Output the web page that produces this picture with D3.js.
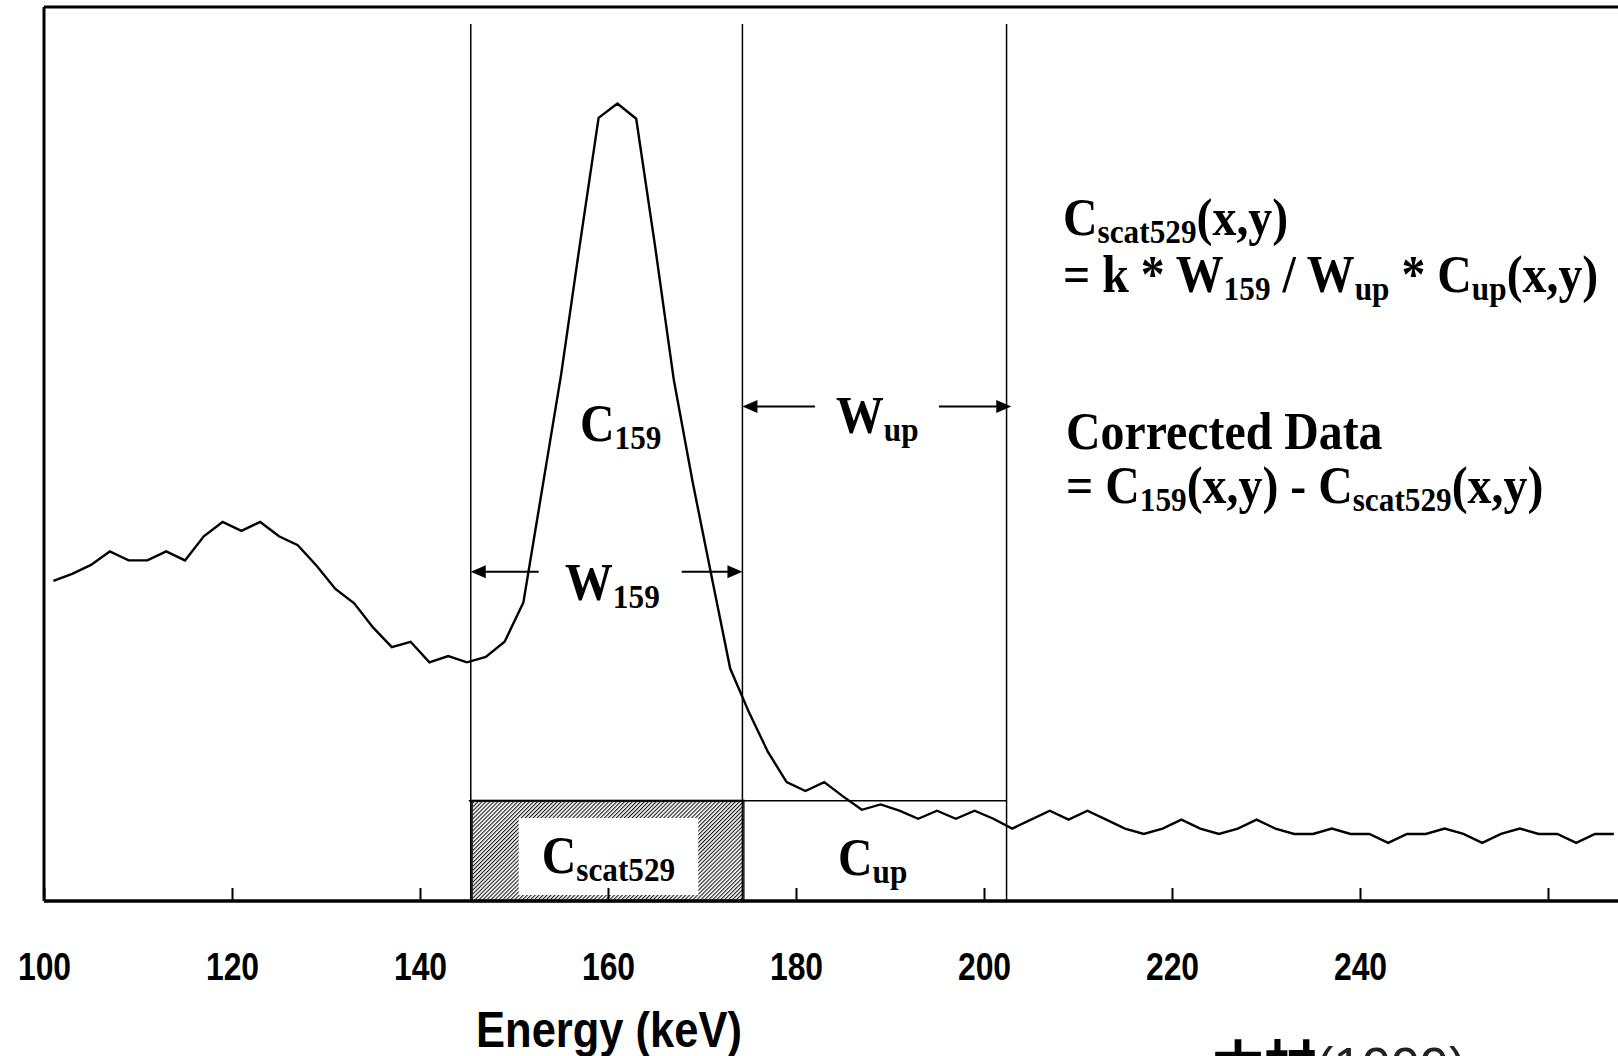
<!DOCTYPE html>
<html><head><meta charset="utf-8">
<script src="https://cdn.jsdelivr.net/npm/d3@7"></script>
<style>
html,body{margin:0;padding:0;background:#fff;overflow:hidden}
svg{display:block}
text{white-space:pre}
</style></head><body>
<svg id="chart" width="1618" height="1056"></svg>
<script>
// ---- data ----
const energies = [101,103,105,107,109,111,113,115,117,119,121,123,125,127,129,131,133,135,137,139,141,143,145,147,149,151,
  153,155,157,159,161,163,165,167,169,171,173,
  175,177,179,181,183,185,187,189,191,193,195,197,199,201,
  203,205,207,209,211,213,215,217,219,221,223,225,227,229,231,233,235,237,239,241,243,245,247,249,251,253,255,257,259,261,263,265,267];
const counts = [358,366,376,391,381,381,391,381,408,424,414,424,408,398,375,349,333,306,284,290,267,274,267,273,290,334,
  461,588,734,876,892,875,733,583,469,364,260,
  211,167,133,123,133,117,102,108,101,92,101,92,101,92,
  81,91,101,91,101,91,81,75,81,91,81,75,81,91,81,75,75,81,75,75,65,75,75,81,75,65,75,81,75,75,65,75,75];
const tickValues = [100,120,140,160,180,200,220,240,260];
const tickLabels = ["100","120","140","160","180","200","220","240",""];
const windowEdges = [145.4, 174.3, 202.4];   // W159: edge0..edge1, Wup: edge1..edge2
const cupLevel = 112;                         // level of C_up / C_scat529 box
const lineTop = 981;

const W = 1618, H = 1056;
const svg = d3.select("#chart");
const x = d3.scaleLinear().domain([100, 260]).range([44, 1548]);
const y = d3.scaleLinear().domain([0, 1000]).range([901, 7]);
const serif = "'Liberation Serif','Times New Roman',serif";
const sans = "'Liberation Sans',Arial,sans-serif";

// hatch pattern
const defs = svg.append("defs");
const pat = defs.append("pattern").attr("id","hatch").attr("patternUnits","userSpaceOnUse")
  .attr("width",2.8).attr("height",10).attr("patternTransform","rotate(45)");
pat.append("rect").attr("width",2.8).attr("height",10).attr("fill","#fff");
pat.append("line").attr("x1",0.6).attr("x2",0.6).attr("y1",0).attr("y2",10).attr("stroke","#000").attr("stroke-width",1.0);

// frame
svg.append("line").attr("x1",x(100)).attr("x2",W).attr("y1",7).attr("y2",7).attr("stroke","#000").attr("stroke-width",3);
svg.append("line").attr("x1",x(100)).attr("x2",x(100)).attr("y1",7).attr("y2",y(0)).attr("stroke","#000").attr("stroke-width",3);

// hatched C_scat529 box
svg.append("rect").attr("x",x(windowEdges[0])+1).attr("y",y(cupLevel))
  .attr("width",x(windowEdges[1])-x(windowEdges[0])).attr("height",y(0)-y(cupLevel))
  .attr("fill","url(#hatch)").attr("stroke","#333").attr("stroke-width",2.5);

// rich text helper (bold serif with subscripts)
function rich(px, py, parts, opts={}) {
  const size = opts.size||52, sub = opts.sub||34, shift = opts.shift||8, sx = opts.sx||0.92;
  const t = svg.append("text").attr("transform",`translate(${px},${py}) scale(${sx},1)`)
    .attr("font-family",serif).attr("font-weight","bold").attr("font-size",size).attr("fill","#000");
  let down = false;
  parts.forEach(([s, isSub]) => {
    const ts = t.append("tspan").text(s);
    if (isSub) { ts.attr("font-size",sub); if (!down) { ts.attr("dy",shift); down = true; } }
    else if (down) { ts.attr("dy",-shift); down = false; }
  });
  return t;
}

// C_scat529 label with white background
const csPx = 541.7, csPy = y(31.3);
const cs = rich(csPx, csPy, [["C",0],["scat529",1]]);
const bb = cs.node().getBBox();
svg.insert("rect", "text").attr("x", csPx + bb.x*0.92 - 23).attr("y", csPy - 55)
  .attr("width", bb.width*0.92 + 46).attr("height", 77).attr("fill","#fff");

// horizontal C_up level line
svg.append("line").attr("x1",x(windowEdges[0])-2).attr("x2",x(windowEdges[2]))
  .attr("y1",y(cupLevel)).attr("y2",y(cupLevel)).attr("stroke","#000").attr("stroke-width",1.5);

// window edges
svg.selectAll("line.edge").data(windowEdges).join("line").attr("class","edge")
  .attr("x1",d=>x(d)).attr("x2",d=>x(d)).attr("y1",y(lineTop)).attr("y2",y(0))
  .attr("stroke","#000").attr("stroke-width",1.5);

// x axis
const xAxis = d3.axisBottom(x).tickValues(tickValues).tickFormat((d,i)=>tickLabels[i])
  .tickSizeInner(-13).tickSizeOuter(0);
const gx = svg.append("g").attr("transform",`translate(0,${y(0)})`).call(xAxis);
gx.select(".domain").remove();
gx.selectAll(".tick line").attr("stroke","#000").attr("stroke-width",2);
gx.selectAll(".tick text").attr("y",79).attr("dy",0).attr("fill","#000")
  .attr("font-family",sans).attr("font-weight","bold").attr("font-size",38)
  .attr("transform","scale(0.84,1)");
svg.append("line").attr("x1",x(100)).attr("x2",W).attr("y1",y(0)).attr("y2",y(0))
  .attr("stroke","#000").attr("stroke-width",3.5);

// spectrum curve
const pts = energies.map((e,i)=>[e, counts[i]]);
svg.append("path").datum(pts)
  .attr("d", d3.line().x(d=>x(d[0])).y(d=>y(d[1])))
  .attr("fill","none").attr("stroke","#000").attr("stroke-width",2.4).attr("stroke-linejoin","miter");

// arrows
function arrow(e1, e2, v) {
  const x1 = x(e1), x2 = x(e2), yy = y(v);
  const dir = Math.sign(x2 - x1), L = 15, hw = 6.5;
  svg.append("line").attr("x1",x1).attr("x2",x2 - dir*L*0.8).attr("y1",yy).attr("y2",yy)
    .attr("stroke","#000").attr("stroke-width",2);
  svg.append("path").attr("d",`M${x2},${yy} L${x2-dir*L},${yy-hw} L${x2-dir*L},${yy+hw} Z`).attr("fill","#000");
}
arrow(152.63, windowEdges[0], 368.3);
arrow(167.84, windowEdges[1], 368.3);
arrow(182.02, windowEdges[1], 553);
arrow(195.21, windowEdges[2]+0.5, 553);

// in-plot labels
rich(x(157.02), y(514.5), [["C",0],["159",1]]);
rich(x(155.43), y(336.7), [["W",0],["159",1]]);
rich(x(184.26), y(523.5), [["W",0],["up",1]]);
rich(x(184.47), y(29), [["C",0],["up",1]]);

// formulas on the right
rich(1063, 235, [["C",0],["scat529",1],["(x,y)",0]]);
rich(1063, 292, [["= k * W",0],["159",1],[" / W",0],["up",1],[" * C",0],["up",1],["(x,y)",0]]);
rich(1066, 449, [["Corrected Data",0]]);
rich(1066, 503, [["= C",0],["159",1],["(x,y) - C",0],["scat529",1],["(x,y)",0]]);

// axis title
svg.append("text").attr("transform","translate(609,1047) scale(0.87,1)").attr("text-anchor","middle")
  .attr("font-family",sans).attr("font-weight","bold").attr("font-size",50).attr("fill","#000").text("Energy (keV)");

// source (partially cut at the bottom)
const src = svg.append("text").attr("x",1212).attr("y",1084).attr("font-size",52).attr("fill","#000");
src.append("tspan").attr("font-family","'Noto Sans CJK JP','Noto Sans CJK SC',sans-serif").attr("font-weight","bold").text("木村");
src.append("tspan").attr("font-family",sans).attr("font-size",52).attr("fill","#222").text("(1999)");
</script>
</body></html>
